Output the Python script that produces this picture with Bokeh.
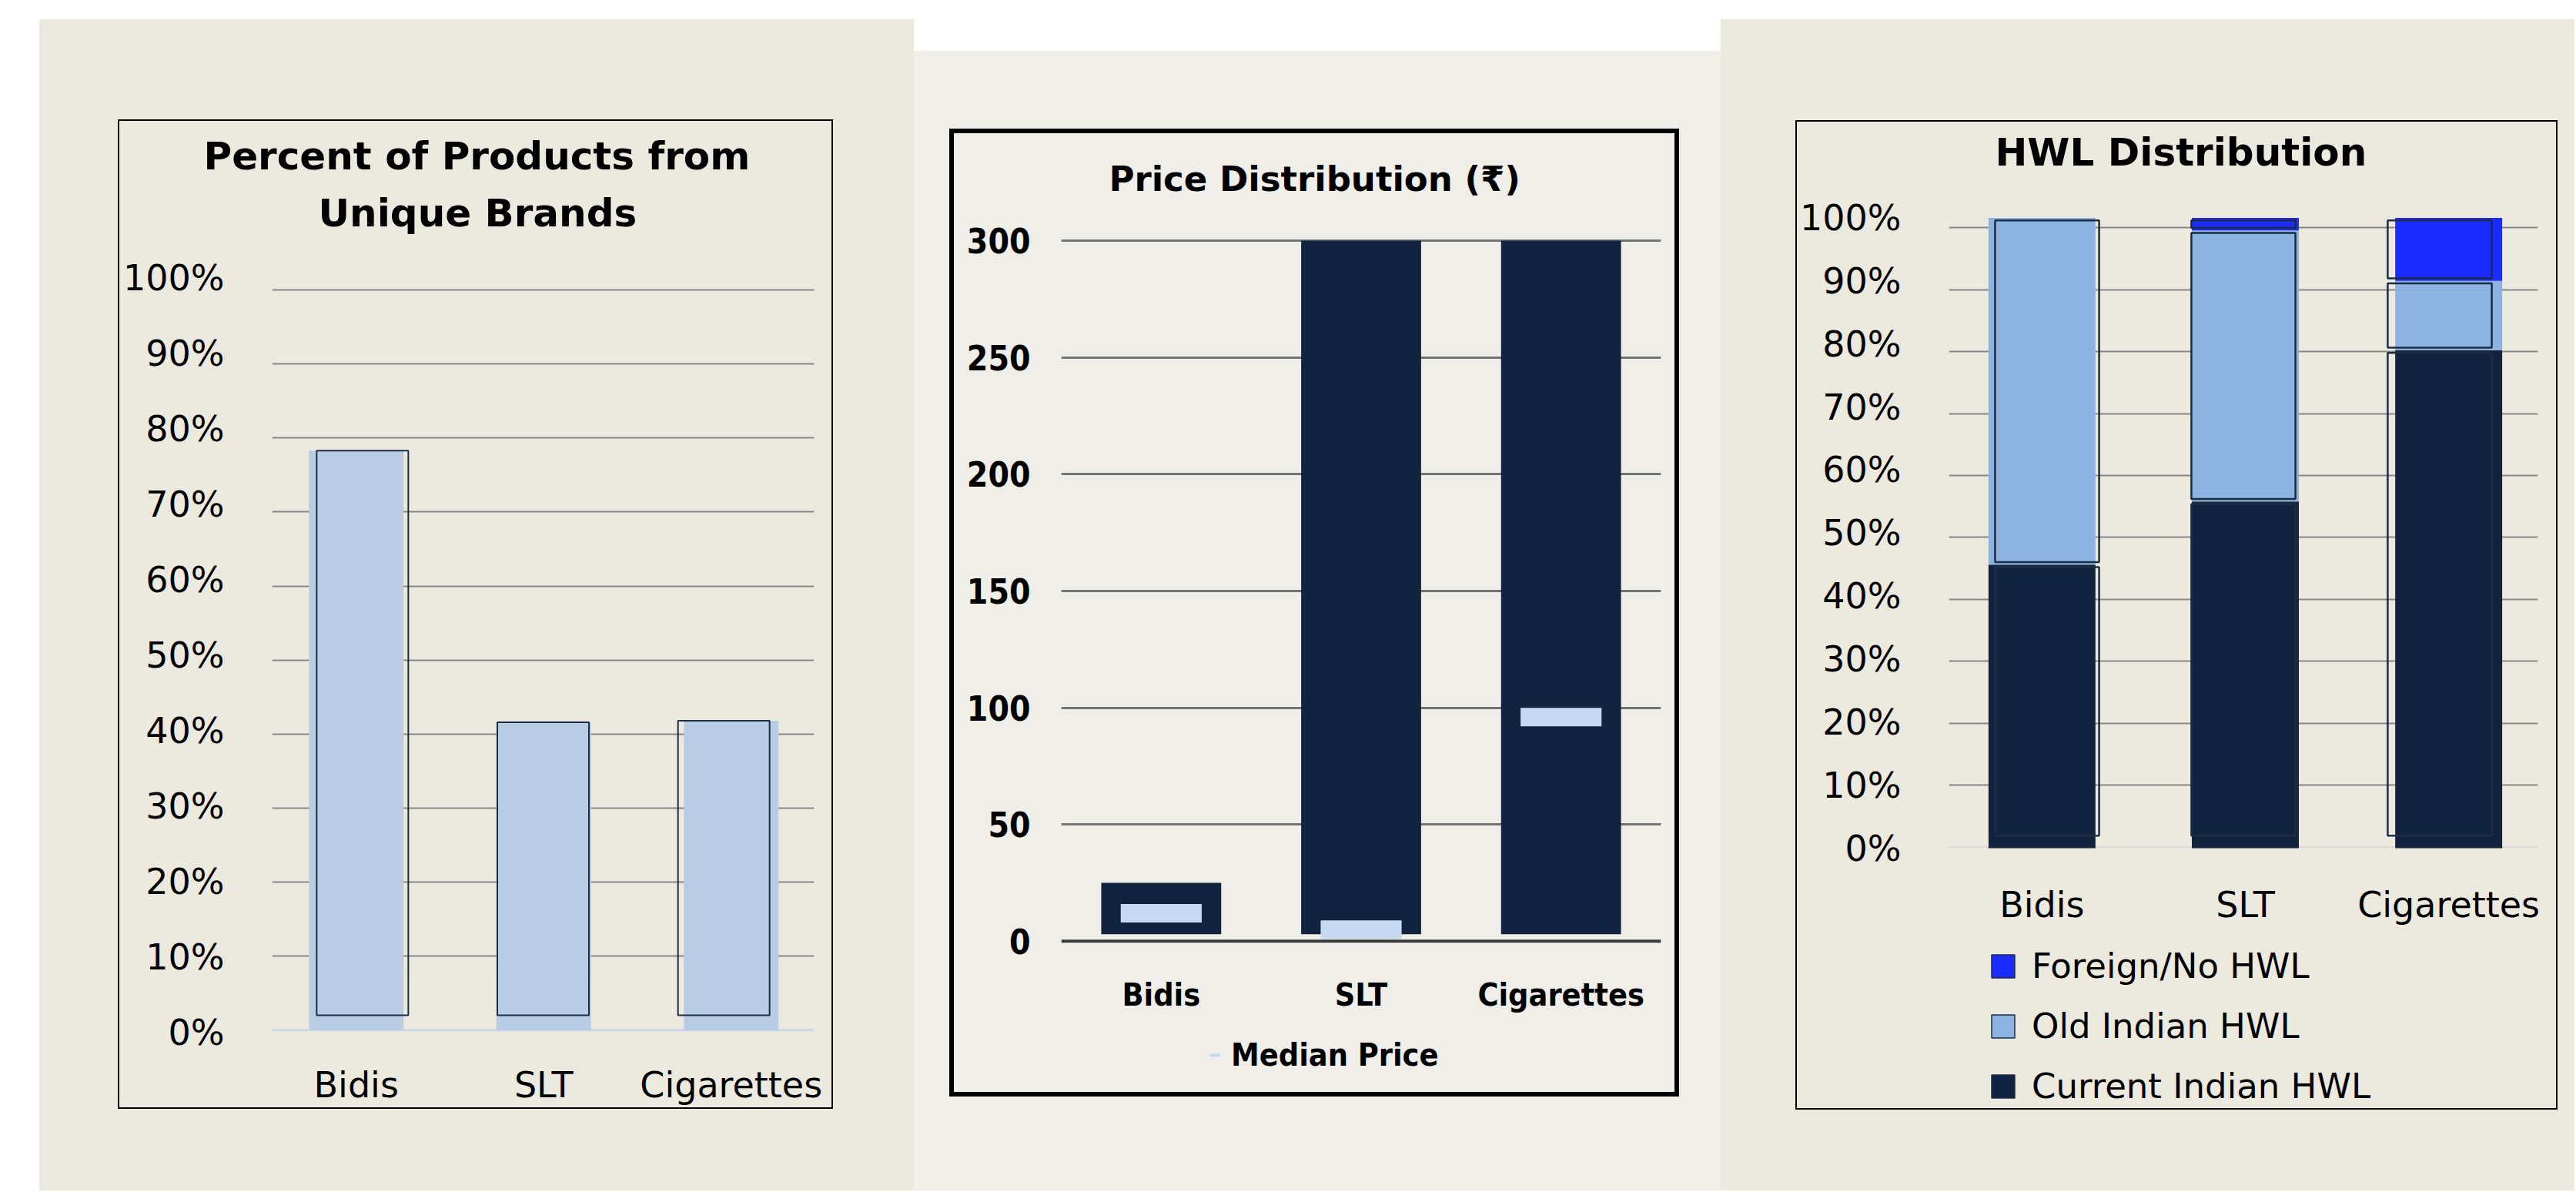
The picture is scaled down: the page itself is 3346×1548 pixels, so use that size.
from bokeh.plotting import figure
from bokeh.models import (Range1d, LinearAxis, FixedTicker, Grid, Span, Title, Legend,
                          LegendItem, PrintfTickFormatter, ColumnDataSource, Spacer)
from bokeh.layouts import row, column
from bokeh.embed import file_html
from bokeh.resources import INLINE

# ---------------- data ----------------
categories = ["Bidis", "SLT", "Cigarettes"]
unique_brand_pct = [78.3, 41.6, 41.8]
price_low = [3, 3, 3]
price_high = [25, 300, 300]
price_median = [12, 5, 96]
hwl_current = [45, 55, 79]
hwl_old = [55, 43, 11]
hwl_foreign = [0, 2, 10]
hwl_series = ["Current Indian HWL", "Old Indian HWL", "Foreign/No HWL"]
pct_ticks = [0, 10, 20, 30, 40, 50, 60, 70, 80, 90, 100]
price_ticks = [0, 50, 100, 150, 200, 250, 300]

# ---------------- style ----------------
BEIGE = "#ECE9DF"
MID_BG = "#F0EEE8"
NAVY = "#12233F"
LIGHT = "#B8CCE4"
OLD = "#8DB3E2"
FOREIGN = "#1B2CFF"
MEDIAN = "#C6D9F1"
OUTLINE = "#1C2C44"
FONT = "DejaVu Sans"
FONT_C = "DejaVu Sans Condensed"
OFF = [-1.0]   # legend-proxy point kept outside the visible (0, 1) ranges

x_pos = [i + 0.5 for i in range(len(categories))]
cat_overrides = {x: c for x, c in zip(x_pos, categories)}


def base_fig(w, h, mb, xr, yr, bg):
    p = figure(width=w, height=h, x_range=xr, y_range=yr,
               output_backend="svg", toolbar_location=None,
               x_axis_location=None, y_axis_location=None,
               min_border_left=mb[0], min_border_right=mb[1],
               min_border_top=mb[2], min_border_bottom=mb[3],
               background_fill_color=bg, border_fill_color=bg,
               outline_line_color=None)
    p.xgrid.visible = False
    p.ygrid.visible = False
    return p


def style_axis(ax, size, standoff, bold=False, font=FONT):
    ax.axis_line_color = None
    ax.major_tick_line_color = None
    ax.minor_tick_line_color = None
    ax.major_tick_out = 0
    ax.major_tick_in = 0
    ax.major_label_standoff = standoff
    ax.major_label_text_font = font
    ax.major_label_text_font_size = size
    ax.major_label_text_color = "#000000"
    if bold:
        ax.major_label_text_font_style = "bold"


def add_title(p, text, size, offset, standoff):
    p.add_layout(Title(text=text, align="left", offset=offset, standoff=standoff,
                       text_font=FONT, text_font_style="bold", text_font_size=size,
                       text_color="#000000"), "above")


def boxed(content, w, h, b):
    blk = {"background-color": "#000000"}
    return column(Spacer(width=w, height=b, styles=blk),
                  row(Spacer(width=b, height=h - 2 * b, styles=blk), content,
                      Spacer(width=b, height=h - 2 * b, styles=blk)),
                  Spacer(width=w, height=b, styles=blk))


# ================= LEFT: Percent of products from unique brands =================
pL = base_fig(925, 1281, (198, 23, 145, 85), Range1d(0, 3), Range1d(-0.5, 107.4), BEIGE)
pL.extra_x_ranges = {"img": Range1d(0.0515, 2.9427)}
pL.extra_y_ranges = {"img": Range1d(-0.2, 105.64)}

pL.add_layout(Grid(dimension=1, ticker=FixedTicker(ticks=pct_ticks[1:]),
                   grid_line_color="#888888", grid_line_width=2))
pL.add_layout(Span(location=0, dimension="width", line_color="#C9D8EA",
                   line_width=3, level="underlay"))

srcL = ColumnDataSource(dict(x=x_pos, cat=categories, val=unique_brand_pct))
pL.vbar(x="x", top="val", bottom=0, width=0.505, source=srcL, x_range_name="img",
        fill_color=LIGHT, line_color=None)
pL.vbar(x="x", top="val", bottom=2, width=0.507, source=srcL,
        fill_color=None, line_color=OUTLINE, line_width=2)

yaxL = LinearAxis(y_range_name="img", ticker=FixedTicker(ticks=pct_ticks),
                  formatter=PrintfTickFormatter(format="%d%%"))
style_axis(yaxL, "46px", 62)
pL.add_layout(yaxL, "left")
xaxL = LinearAxis(x_range_name="img", ticker=FixedTicker(ticks=x_pos),
                  major_label_overrides=cat_overrides)
style_axis(xaxL, "46px", 39)
pL.add_layout(xaxL, "below")

add_title(pL, "Unique Brands", "50px", 60, 0)
add_title(pL, "Percent of Products from", "50px", -89, 28)

# ================= MIDDLE: Price distribution =================
pM = base_fig(936, 1173, (139, 18, 85, 112), Range1d(0, 3), Range1d(-4, 317.8), MID_BG)
pM.add_layout(Grid(dimension=1, ticker=FixedTicker(ticks=price_ticks[1:]),
                   grid_line_color="#737373", grid_line_width=3))
pM.add_layout(Span(location=0, dimension="width", line_color="#3A3A3A",
                   line_width=4, level="underlay"))

srcM = ColumnDataSource(dict(x=x_pos, cat=categories, low=price_low,
                             high=price_high, med=price_median))
pM.vbar(x="x", bottom="low", top="high", width=0.6, source=srcM,
        fill_color=NAVY, line_color=None)
pM.rect(x="x", y="med", width=0.405, height=24, height_units="screen", source=srcM,
        fill_color=MEDIAN, line_color=None)

yaxM = LinearAxis(ticker=FixedTicker(ticks=price_ticks))
style_axis(yaxM, "44px", 40, bold=True, font=FONT_C)
pM.add_layout(yaxM, "left")
xaxM = LinearAxis(ticker=FixedTicker(ticks=x_pos), major_label_overrides=cat_overrides)
style_axis(xaxM, "41px", 33, bold=True, font=FONT_C)
pM.add_layout(xaxM, "below")

add_title(pM, "Price Distribution (₹)", "45px", 62, 0)

# legend strip under the middle chart
lgM = base_fig(604, 72, (0, 0, 0, 0), Range1d(0, 1), Range1d(0, 1), MID_BG)
med_proxy = lgM.line(x=OFF * 2, y=OFF * 2, line_color=MEDIAN, line_width=4)
legM = Legend(items=[LegendItem(label="Median Price", renderers=[med_proxy])],
              location="top_left", orientation="horizontal",
              glyph_width=14, glyph_height=48, label_height=48, label_standoff=14,
              padding=0, margin=0, border_line_color=None, background_fill_alpha=0,
              label_text_font=FONT_C, label_text_font_style="bold",
              label_text_font_size="41px", label_text_color="#000000")
lgM.add_layout(legM)

# ================= RIGHT: HWL distribution =================
pR = base_fig(986, 1059, (196, 24, 68, 115), Range1d(0, 3), Range1d(-0.3, 108.6), BEIGE)
pR.extra_x_ranges = {"img": Range1d(0.0425, 2.9386)}
pR.extra_y_ranges = {"img": Range1d(-0.12, 106.9)}

pR.add_layout(Grid(dimension=1, ticker=FixedTicker(ticks=pct_ticks[1:]),
                   grid_line_color="#888888", grid_line_width=2))
pR.add_layout(Span(location=0, dimension="width", line_color="#DADADA",
                   line_width=2, level="underlay"))

series_vals = [hwl_current, hwl_old, hwl_foreign]
series_cols = [NAVY, OLD, FOREIGN]
cum_prev = [0.0] * len(categories)
outline_rects = dict(x=[], bottom=[], top=[])
for vals, col in zip(series_vals, series_cols):
    cum = [a + b for a, b in zip(cum_prev, vals)]
    pR.vbar(x=x_pos, bottom=cum_prev, top=cum, width=0.526,
            x_range_name="img", y_range_name="img",
            fill_color=col, line_color=None)
    for xx, b0, t0, v in zip(x_pos, cum_prev, cum, vals):
        if v > 0:
            outline_rects["x"].append(xx)
            outline_rects["bottom"].append(2 if b0 == 0 else b0 + 0.4)
            outline_rects["top"].append(t0 - 0.4)
    cum_prev = cum
pR.vbar(x="x", bottom="bottom", top="top", width=0.53,
        source=ColumnDataSource(outline_rects), y_range_name="img",
        fill_color=None, line_color=OUTLINE, line_width=2.5)

yaxR = LinearAxis(y_range_name="img", ticker=FixedTicker(ticks=pct_ticks),
                  formatter=PrintfTickFormatter(format="%d%%"))
style_axis(yaxR, "46px", 62)
pR.add_layout(yaxR, "left")
xaxR = LinearAxis(x_range_name="img", ticker=FixedTicker(ticks=x_pos),
                  major_label_overrides=cat_overrides)
style_axis(xaxR, "46px", 45)
pR.add_layout(xaxR, "below")

add_title(pR, "HWL Distribution", "50px", 60, 0)

# legend strip under the right chart
lgR = base_fig(756, 222, (0, 0, 0, 0), Range1d(0, 1), Range1d(0, 1), BEIGE)
proxies = []
for col in series_cols:
    proxies.append(lgR.scatter(x=OFF, y=OFF, marker="square", size=30,
                               fill_color=col, line_color=OUTLINE, line_width=1.5))
legR = Legend(items=[LegendItem(label=lab, renderers=[r])
                     for lab, r in reversed(list(zip(hwl_series, proxies)))],
              location="top_left", orientation="vertical",
              glyph_width=75, glyph_height=75, label_height=75, spacing=3,
              label_standoff=-10, padding=0, margin=0,
              border_line_color=None, background_fill_alpha=0,
              label_text_font=FONT, label_text_font_size="45px",
              label_text_color="#000000")
lgR.add_layout(legR)

# ================= page layout =================
H = 1546
boxL = boxed(pL, 929, 1285, 2)
panelL = column(Spacer(width=1136, height=130), row(Spacer(width=102, height=1285), boxL),
                width=1136, height=H - 25, styles={"background-color": BEIGE})
colL = column(Spacer(width=1136, height=25), panelL, width=1136, height=H)

innerM = column(pM, row(Spacer(width=332, height=72), lgM))
boxM = boxed(innerM, 948, 1257, 6)
panelM = column(Spacer(width=1048, height=101), row(Spacer(width=46, height=1257), boxM),
                width=1048, height=H - 66, styles={"background-color": MID_BG})
colM = column(Spacer(width=1048, height=66), panelM, width=1048, height=H)

innerR = column(pR, row(Spacer(width=230, height=222), lgR))
boxR = boxed(innerR, 990, 1285, 2)
panelR = column(Spacer(width=1109, height=131), row(Spacer(width=97, height=1285), boxR),
                width=1109, height=H - 25, styles={"background-color": BEIGE})
colR = column(Spacer(width=1109, height=25), panelR, width=1109, height=H)

root = row(Spacer(width=51, height=H), colL, colM, colR)

open("out.html", "w").write(file_html(root, INLINE))
